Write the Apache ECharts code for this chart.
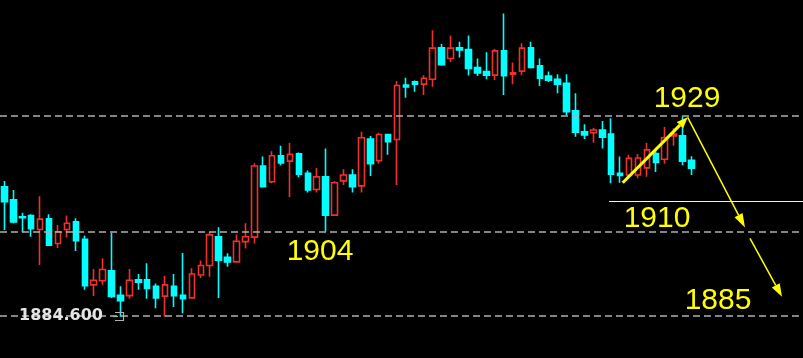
<!DOCTYPE html>
<html>
<head>
<meta charset="utf-8">
<script src="https://cdn.jsdelivr.net/npm/echarts@6/dist/echarts.min.js"></script>
<style>
html,body{margin:0;padding:0;background:#000;}
#c{width:803px;height:358px;}
</style>
</head>
<body>
<div id="c"></div>
<script>
// OHLC values (price units)
const opens = [1913.3,1910.4,1906.6,1906.9,1903.8,1906.2,1900.7,1903.8,1905.5,1901.6,
1891.5,1892.4,1894.6,1889.2,1889.1,1892.6,1892.6,1891.2,1889.0,1891.2,
1889.2,1888.6,1893.7,1895.8,1902.2,1897.6,1896.6,1901.1,1902.1,1917.9,
1914.4,1920.2,1919.0,1920.6,1916.3,1912.7,1915.5,1907.0,1914.6,1915.9,
1913.5,1923.9,1919.1,1924.9,1923.8,1935.9,1936.6,1936.1,1937.2,1944.2,
1941.8,1944.2,1943.8,1939.8,1938.9,1938.1,1943.5,1938.3,1939.0,1944.2,
1940.2,1937.9,1937.2,1936.3,1930.2,1925.5,1925.3,1925.9,1925.0,1916.3,
1915.9,1915.9,1917.5,1920.7,1919.4,1924.6,1924.6,1919.2];
const closes = [1910.0,1905.5,1906.4,1904.0,1906.1,1900.3,1903.3,1905.2,1901.3,1891.3,
1892.5,1894.9,1888.9,1888.0,1892.5,1892.1,1890.7,1888.6,1891.5,1889.1,
1888.4,1893.9,1895.8,1902.6,1897.0,1896.6,1901.2,1902.2,1917.9,1913.3,
1920.2,1918.6,1920.5,1916.1,1912.6,1915.5,1907.0,1914.2,1915.9,1913.3,
1924.2,1918.4,1924.9,1923.3,1935.8,1935.5,1936.1,1937.4,1944.1,1940.4,
1944.1,1943.7,1939.6,1938.6,1938.1,1943.5,1938.0,1938.6,1944.1,1939.8,
1937.4,1937.0,1936.1,1930.0,1925.4,1924.8,1925.9,1924.3,1916.1,1915.8,
1919.6,1919.7,1921.5,1918.7,1924.2,1925.0,1919.0,1917.4];
const lows = [1903.7,1905.2,1903.2,1902.2,1895.9,1900.2,1899.7,1902.0,1899.0,1890.4,
1889.0,1891.5,1888.6,1884.4,1888.4,1890.4,1888.4,1886.3,1884.4,1886.6,
1885.2,1888.4,1893.0,1893.3,1888.6,1895.5,1896.4,1899.6,1900.7,1913.2,
1914.1,1918.1,1911.0,1915.4,1912.0,1912.0,1903.3,1906.8,1913.7,1912.0,
1912.0,1915.7,1918.4,1920.4,1913.7,1933.1,1934.4,1933.7,1935.5,1940.2,
1941.0,1942.0,1938.0,1937.9,1937.2,1937.0,1933.7,1936.1,1938.1,1939.6,
1935.7,1936.6,1934.1,1929.2,1924.4,1923.9,1923.1,1921.8,1914.1,1914.2,
1915.2,1915.2,1915.5,1916.6,1918.4,1922.4,1918.1,1915.9];
const highs = [1914.6,1912.6,1907.5,1907.2,1911.2,1907.2,1904.8,1906.9,1906.3,1902.4,
1895.0,1897.4,1903.0,1891.2,1895.0,1893.9,1896.3,1891.8,1893.5,1893.9,
1898.6,1895.2,1896.9,1903.2,1904.3,1898.5,1902.7,1905.2,1918.5,1920.0,
1921.2,1922.4,1923.0,1920.9,1916.9,1917.5,1921.8,1914.6,1917.2,1917.2,
1925.5,1924.6,1925.3,1924.9,1936.8,1937.5,1936.9,1938.1,1948.1,1945.0,
1946.9,1945.5,1946.9,1941.8,1943.2,1943.9,1951.8,1940.9,1945.2,1945.5,
1941.8,1938.9,1938.3,1938.3,1934.1,1927.2,1926.4,1927.9,1928.5,1920.0,
1920.4,1920.6,1923.0,1921.5,1926.6,1926.3,1928.9,1920.1];
// horizontal dashed price levels
const levels = [1929.0, 1903.2, 1884.6];
// annotation texts
const labels = ['1929', '1904', '1910', '1885'];
const priceTag = '1884.600';

const slots = 90; // category slots (last ones empty on the right)
const categories = Array.from({length: slots}, (_, i) => String(i + 1));
const ohlc = opens.map((o, i) => [o, closes[i], lows[i], highs[i]]);

function arrow(x1, y1, x2, y2, lw, headLen, headHalf, color) {
  const dx = x2 - x1, dy = y2 - y1, L = Math.hypot(dx, dy);
  const ux = dx / L, uy = dy / L, px = -uy, py = ux;
  const bx = x2 - ux * headLen, by = y2 - uy * headLen;
  return [
    {type: 'polyline', shape: {points: [[x1, y1], [bx, by]]}, style: {stroke: color, lineWidth: lw, fill: null}, z: 100},
    {type: 'polygon', shape: {points: [[x2, y2], [bx + px * headHalf, by + py * headHalf], [bx - px * headHalf, by - py * headHalf]]}, style: {fill: color}, z: 100}
  ];
}

const Y = '#ffff00';
const textStyle = (t, x, y) => ({
  type: 'text', x: x, y: y, z: 101,
  style: {text: t, fill: Y, font: '30px "Liberation Sans", Arial, sans-serif', textAlign: 'center', textVerticalAlign: 'middle'}
});

const chart = echarts.init(document.getElementById('c'), null, {renderer: 'canvas'});
chart.setOption({
  backgroundColor: '#000000',
  animation: false,
  grid: {left: -1.8, top: 0, width: 810, height: 358, containLabel: false},
  xAxis: {type: 'category', data: categories, show: false, boundaryGap: true},
  yAxis: {type: 'value', min: 1875.24, max: 1954.8, show: false, splitLine: {show: false}},
  series: [{
    type: 'candlestick',
    data: ohlc,
    barWidth: 6,
    itemStyle: {
      color: '#000000', color0: '#00ffff',
      borderColor: '#f0302a', borderColor0: '#00ffff',
      borderColorDoji: '#00ffff',
      borderWidth: 1.6
    },
    markLine: {
      silent: true, symbol: 'none',
      label: {show: false},
      lineStyle: {color: '#b0b0b0', type: [7, 4], width: 1.6},
      data: levels.map(v => ({yAxis: v}))
    }
  }],
  graphic: [
    {type: 'line', shape: {x1: 609, y1: 201.5, x2: 803, y2: 201.5}, style: {stroke: '#ffff90', lineWidth: 1}, z: 99},
    ...arrow(622.7, 182.7, 687.7, 117.3, 3, 11, 4.5, Y),
    ...arrow(687.7, 117.3, 745, 227.5, 1.5, 14, 4.5, Y),
    ...arrow(750, 238.3, 782, 296.7, 1.5, 13, 4.5, Y),
    textStyle(labels[0], 687, 98.5),
    textStyle(labels[1], 320, 251.5),
    textStyle(labels[2], 657, 218.5),
    textStyle(labels[3], 718, 301),
    {type: 'text', x: 61, y: 316, z: 101,
     style: {text: priceTag, fill: '#e4e4e4', font: 'bold 16px "DejaVu Sans", sans-serif', textAlign: 'center', textVerticalAlign: 'middle'}},
    {type: 'polyline', z: 101, shape: {points: [[115, 312.5], [123.5, 312.5], [123.5, 320.5], [115, 320.5]]}, style: {stroke: '#b0b0b0', lineWidth: 1.2, fill: null}},
    {type: 'line', z: 101, shape: {x1: 113, y1: 316.5, x2: 118, y2: 316.5}, style: {stroke: '#b0b0b0', lineWidth: 1.2}}
  ]
});
</script>
</body>
</html>
